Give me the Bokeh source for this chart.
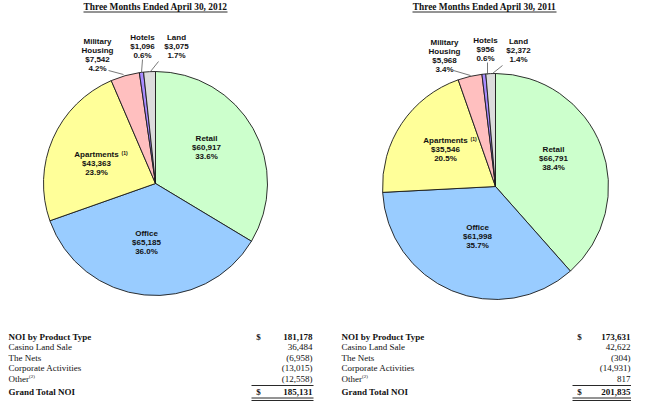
import numpy as np
from bokeh.plotting import figure
from bokeh.models import Range1d, ColumnDataSource
from bokeh.core.properties import value
from bokeh.embed import file_html
from bokeh.resources import INLINE

# ---------------- data ----------------
categories = ["Retail", "Office", "Apartments", "Military Housing", "Hotels", "Land"]
label_names = ["Retail", "Office", "Apartments", "Military\nHousing", "Hotels", "Land"]
noi_2012 = [60917, 65185, 43363, 7542, 1096, 3075]
noi_2011 = [66791, 61998, 35546, 5968, 956, 2372]
pct_2012 = [33.6, 36.0, 23.9, 4.2, 0.6, 1.7]
pct_2011 = [38.4, 35.7, 20.5, 3.4, 0.6, 1.4]
slice_colors = ["#CCFFCC", "#99CCFF", "#FFFF99", "#FFBFBF", "#A98BFF", "#DCDCDC"]

titles = ["Three Months Ended April 30, 2012", "Three Months Ended April 30, 2011"]

table_labels = ["NOI by Product Type", "Casino Land Sale", "The Nets", "Corporate Activities", "Other"]
table_2012 = [181178, 36484, -6958, -13015, -12558]
table_2011 = [173631, 42622, -304, -14931, 817]
total_label = "Grand Total NOI"
grand_2012 = 185131
grand_2011 = 201835

# ---------------- layout (reference pixel space) ----------------
W, H = 631, 404

def Y(y):
    return 405.0 - y

p = figure(width=W, height=H, output_backend="svg", toolbar_location=None,
           x_range=Range1d(5, 5 + W), y_range=Range1d(0, H))
p.axis.visible = False
p.grid.visible = False
p.outline_line_color = None
p.background_fill_color = "white"
p.border_fill_color = "white"
p.min_border = 0

pies = [
    dict(vals=noi_2012, pcts=pct_2012, cx=160, cy=184, r=112, title_x=160,
         lab=[(211, 139), (151, 234), (101, 155), (102, 42), (147, 38), (181, 38)],
         sup=(126, 153),
         leaders=[None, None, None, ((113, 71), (128, 75)), ((147, 60), (146, 73)), ((163, 62), (155, 72))],
         tab_lx=13, tab_dollar=263, tab_rx=317, tvals=table_2012, grand=grand_2012),
    dict(vals=noi_2011, pcts=pct_2011, cx=500, cy=187, r=113, title_x=489,
         lab=[(558, 150), (482, 228), (450, 141), (449, 43), (490, 41), (523, 42)],
         sup=(475, 139),
         leaders=[None, None, None, ((458, 71), (475, 76)), ((492, 63), (492, 75)), ((507, 66), (497, 74))],
         tab_lx=346, tab_dollar=584, tab_rx=635, tvals=table_2011, grand=grand_2011),
]

LINE = 9.0
ROWS = [337, 347.5, 358, 368.5, 379]
GRAND_Y = 392
SINGLE_Y = 386
DOUBLE_Y = [398.5, 401]
TFONT = "9px"

def fmt_acct(v):
    return f"({abs(v):,})" if v < 0 else f"{v:,}"

for idx, pie in enumerate(pies):
    vals = np.array(pie["vals"], dtype=float)
    total = vals.sum()
    frac = vals / total
    cum = np.concatenate([[0], np.cumsum(frac)])
    start = np.pi / 2 - 2 * np.pi * cum[:-1]
    end = np.pi / 2 - 2 * np.pi * cum[1:]
    src = ColumnDataSource(dict(start=start, end=end, color=slice_colors, cat=categories))
    p.wedge(x=pie["cx"], y=Y(pie["cy"]), radius=pie["r"], start_angle="start", end_angle="end",
            direction="clock", fill_color="color", line_color="#1a1a1a", line_width=0.9, source=src)

    # labels
    xs, ys, txt = [], [], []
    for i, name in enumerate(label_names):
        lines = name.split("\n") + [f"${int(vals[i]):,}", f"{pie['pcts'][i]:.1f}%"]
        lx, ly = pie["lab"][i]
        for k, t in enumerate(lines):
            xs.append(lx); ys.append(Y(ly + k * LINE)); txt.append(t)
    p.text(x=xs, y=ys, text=txt, text_align="center", text_baseline="middle",
           text_font=value("Liberation Sans"), text_font_style="bold",
           text_font_size="8px", text_color="#111111")
    sx, sy = pie["sup"]
    p.text(x=[sx], y=[Y(sy)], text=["(1)"], text_align="left", text_baseline="middle",
           text_font=value("Liberation Sans"), text_font_style="bold",
           text_font_size="5px", text_color="#111111")

    # leaders
    x0s, y0s, x1s, y1s = [], [], [], []
    for ld in pie["leaders"]:
        if ld is None:
            continue
        (a, b), (c, d) = ld
        x0s.append(a); y0s.append(Y(b)); x1s.append(c); y1s.append(Y(d))
    p.segment(x0=x0s, y0=y0s, x1=x1s, y1=y1s, line_color="#555555", line_width=0.8)

    # title
    p.text(x=[pie["title_x"]], y=[Y(7)], text=[titles[idx]], text_align="center",
           text_baseline="middle", text_font=value("Liberation Serif"), text_font_style="bold",
           text_font_size="9.4px", text_color="#111111")
    p.segment(x0=[pie["title_x"] - 72], y0=[Y(12.5)], x1=[pie["title_x"] + 72], y1=[Y(12.5)],
              line_color="#111111", line_width=0.9)

    # table
    lx = pie["tab_lx"]; rx = pie["tab_rx"]; dx = pie["tab_dollar"]
    for k, (lab, v) in enumerate(zip(table_labels, pie["tvals"])):
        bold = "bold" if k == 0 else "normal"
        p.text(x=[lx], y=[Y(ROWS[k])], text=[lab], text_align="left", text_baseline="middle",
               text_font=value("Liberation Serif"), text_font_style=bold,
               text_font_size=TFONT, text_color="#111111")
        p.text(x=[rx], y=[Y(ROWS[k])], text=[fmt_acct(v)], text_align="right", text_baseline="middle",
               text_font=value("Liberation Serif"), text_font_style=bold,
               text_font_size=TFONT, text_color="#111111")
    p.text(x=[dx], y=[Y(ROWS[0])], text=["$"], text_align="center", text_baseline="middle",
           text_font=value("Liberation Serif"), text_font_style="bold",
           text_font_size=TFONT, text_color="#111111")
    # footnote (2)
    p.text(x=[lx + 20.5], y=[Y(ROWS[4] - 2.5)], text=["(2)"], text_align="left", text_baseline="middle",
           text_font=value("Liberation Serif"), text_font_size="5px", text_color="#111111")
    # grand total
    p.text(x=[lx], y=[Y(GRAND_Y)], text=[total_label], text_align="left", text_baseline="middle",
           text_font=value("Liberation Serif"), text_font_style="bold",
           text_font_size=TFONT, text_color="#111111")
    p.text(x=[rx], y=[Y(GRAND_Y)], text=[f"{pie['grand']:,}"], text_align="right", text_baseline="middle",
           text_font=value("Liberation Serif"), text_font_style="bold",
           text_font_size=TFONT, text_color="#111111")
    p.text(x=[dx], y=[Y(GRAND_Y)], text=["$"], text_align="center", text_baseline="middle",
           text_font=value("Liberation Serif"), text_font_style="bold",
           text_font_size=TFONT, text_color="#111111")
    ly_all = [SINGLE_Y] + DOUBLE_Y
    p.segment(x0=[dx - 7] * 3, y0=[Y(v) for v in ly_all], x1=[rx + 1] * 3,
              y1=[Y(v) for v in ly_all], line_color="#111111", line_width=0.9)

open("out.html", "w").write(file_html(p, INLINE))
